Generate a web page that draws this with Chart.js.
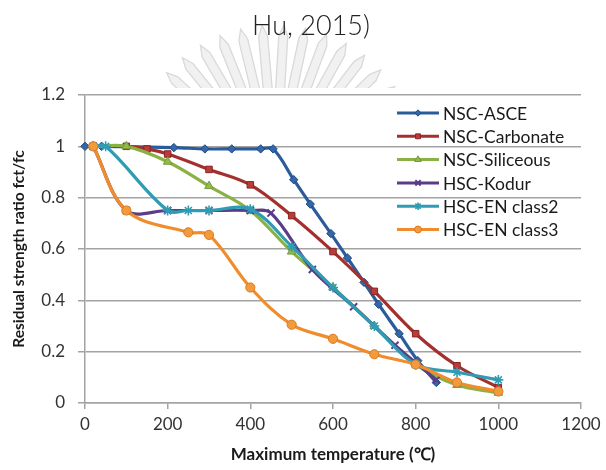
<!DOCTYPE html>
<html>
<head>
<meta charset="utf-8">
<script src="https://cdn.jsdelivr.net/npm/chart.js@4.4.1/dist/chart.umd.min.js"></script>
<style>
  html, body { margin: 0; padding: 0; background: #fff; }
  #wrap { position: relative; width: 606px; height: 470px; }
</style>
</head>
<body>
<div id="wrap"><canvas id="c" width="606" height="470"></canvas></div>
<script>
// Residual strength ratio of concrete vs. maximum exposure temperature
const seriesNames = ['NSC-ASCE', 'NSC-Carbonate', 'NSC-Siliceous', 'HSC-Kodur', 'HSC-EN class2', 'HSC-EN class3'];

const asceTemp  = [0, 40, 215, 290, 355, 425, 455, 505, 545, 595, 635, 675, 710, 760, 805, 850];
const asceRatio = [1.0, 1.0, 0.995, 0.99, 0.99, 0.99, 0.99, 0.87, 0.775, 0.66, 0.565, 0.47, 0.385, 0.27, 0.165, 0.08];

const carbTemp  = [20, 100, 150, 200, 300, 400, 500, 600, 700, 800, 900, 1000];
const carbRatio = [1.0, 1.0, 0.99, 0.97, 0.91, 0.85, 0.73, 0.59, 0.435, 0.27, 0.145, 0.06];

const silTemp  = [20, 100, 200, 300, 400, 500, 600, 700, 800, 900, 1000];
const silRatio = [1.0, 1.0, 0.94, 0.845, 0.75, 0.59, 0.45, 0.30, 0.15, 0.07, 0.04];

const kodurTemp  = [20, 100, 200, 300, 400, 450, 550, 650, 750, 850];
const kodurRatio = [1.0, 0.75, 0.75, 0.75, 0.75, 0.74, 0.52, 0.375, 0.225, 0.09];

const cls2Temp  = [20, 50, 200, 250, 300, 400, 500, 600, 700, 800, 900, 1000];
const cls2Ratio = [1.0, 1.0, 0.75, 0.75, 0.75, 0.755, 0.61, 0.45, 0.30, 0.15, 0.12, 0.09];

const cls3Temp  = [20, 100, 250, 300, 400, 500, 600, 700, 800, 900, 1000];
const cls3Ratio = [1.0, 0.75, 0.665, 0.655, 0.45, 0.305, 0.25, 0.19, 0.15, 0.08, 0.045];

const xTickValues = [0, 200, 400, 600, 800, 1000, 1200];
const yTickValues = [0, 0.2, 0.4, 0.6, 0.8, 1, 1.2];

const toPoints = (xs, ys) => xs.map((x, i) => ({ x: x, y: ys[i] }));

const seriesData = [
  toPoints(asceTemp, asceRatio),
  toPoints(carbTemp, carbRatio),
  toPoints(silTemp, silRatio),
  toPoints(kodurTemp, kodurRatio),
  toPoints(cls2Temp, cls2Ratio),
  toPoints(cls3Temp, cls3Ratio)
];

const styles = [
  { line: '#2a5c9c', fill: '#3466a8', edge: '#1f4a85', shape: 'rectRot',  r: 4.2, bw: 1 },
  { line: '#a3302e', fill: '#b83c39', edge: '#8a2422', shape: 'rect',     r: 4.6, bw: 1 },
  { line: '#8bb043', fill: '#94b94c', edge: '#76993a', shape: 'triangle', r: 5,   bw: 1 },
  { line: '#5a3c88', fill: '#5a3c88', edge: '#5a3c88', shape: 'crossRot', r: 5,   bw: 2 },
  { line: '#2f9cb4', fill: '#3aa6bd', edge: '#2f9cb4', shape: 'star',     r: 5,   bw: 1.6 },
  { line: '#f08c2c', fill: '#f39a3c', edge: '#d97a20', shape: 'circle',   r: 4.6, bw: 1 }
];

const datasets = seriesData.map((pts, i) => ({
  label: seriesNames[i],
  data: pts,
  borderColor: styles[i].line,
  backgroundColor: styles[i].fill,
  borderWidth: 3.2,
  tension: 0.35,
  clip: false,
  pointStyle: styles[i].shape,
  pointRadius: styles[i].r,
  pointBorderWidth: styles[i].bw,
  pointBackgroundColor: styles[i].fill,
  pointBorderColor: styles[i].edge,
  order: seriesNames.length - i
}));

const fontFamily = 'Lato, "Open Sans", sans-serif';

// faint fan emblem printed behind the page heading
const emblemPlugin = {
  id: 'emblem',
  beforeDraw(chart) {
    const ctx = chart.ctx;
    ctx.save();
    ctx.beginPath();
    ctx.rect(0, 0, chart.width, 88);
    ctx.clip();
    const cx = 275, cy = 172;
    for (let a = -146; a <= -34; a += 8.5) {
      const t = a * Math.PI / 180;
      ctx.save();
      ctx.translate(cx, cy);
      ctx.rotate(t);
      ctx.beginPath();
      ctx.moveTo(80, -4.5);
      ctx.lineTo(136, -4.5);
      ctx.lineTo(147, 0);
      ctx.lineTo(136, 4.5);
      ctx.lineTo(80, 4.5);
      ctx.closePath();
      ctx.fillStyle = '#f1f1f1';
      ctx.fill();
      ctx.lineWidth = 1.3;
      ctx.strokeStyle = '#d9d9d9';
      ctx.stroke();
      ctx.restore();
    }
    ctx.restore();

    ctx.save();
    ctx.fillStyle = '#222';
    ctx.font = '300 27px ' + fontFamily;
    ctx.textAlign = 'center';
    ctx.textBaseline = 'middle';
    ctx.fillText('Hu, 2015)', 311, 26);
    ctx.restore();
  }
};

// legend drawn inside the plot, top right
const innerLegend = {
  id: 'innerLegend',
  afterDraw(chart) {
    const ctx = chart.ctx;
    const x0 = 397, x1 = 439, tx = 443, y0 = 113, dy = 23.3;
    chart.data.datasets.forEach((ds, i) => {
      const y = y0 + i * dy;
      ctx.save();
      ctx.strokeStyle = ds.borderColor;
      ctx.lineWidth = 3;
      ctx.beginPath();
      ctx.moveTo(x0, y);
      ctx.lineTo(x1, y);
      ctx.stroke();
      ctx.fillStyle = ds.pointBackgroundColor;
      ctx.strokeStyle = ds.pointBorderColor;
      ctx.lineWidth = ds.pointBorderWidth;
      Chart.helpers.drawPoint(ctx, {
        pointStyle: ds.pointStyle,
        radius: ds.pointRadius * 0.75,
        borderWidth: ds.pointBorderWidth,
        rotation: 0
      }, (x0 + x1) / 2, y);
      ctx.fillStyle = '#1a1a1a';
      ctx.font = '17.5px ' + fontFamily;
      ctx.textAlign = 'left';
      ctx.textBaseline = 'middle';
      ctx.fillText(ds.label, tx, y + 1);
      ctx.restore();
    });
  }
};

const gridGrey = '#a3a3a3';

new Chart(document.getElementById('c'), {
  type: 'line',
  data: { datasets: datasets },
  options: {
    responsive: false,
    animation: false,
    devicePixelRatio: 1,
    layout: { padding: { top: 95, right: 25, left: 0, bottom: 0 } },
    plugins: {
      legend: { display: false },
      tooltip: { enabled: false }
    },
    scales: {
      x: {
        type: 'linear',
        min: 0,
        max: 1200,
        afterBuildTicks(scale) { scale.ticks = xTickValues.map(v => ({ value: v })); },
        afterFit(scale) { scale.height = 67; },
        ticks: {
          color: '#333',
          font: { family: fontFamily, size: 17 },
          padding: 5,
          callback: v => String(v)
        },
        grid: { drawOnChartArea: false, drawTicks: true, tickLength: 6, color: gridGrey, lineWidth: 1.5 },
        border: { display: true, color: gridGrey, width: 1.5 },
        title: {
          display: true,
          text: 'Maximum temperature (℃)',
          color: '#1a1a1a',
          font: { family: fontFamily, size: 17, weight: 'bold' },
          padding: { bottom: 5, top: 0 }
        }
      },
      y: {
        type: 'linear',
        min: 0,
        max: 1.2,
        afterBuildTicks(scale) { scale.ticks = yTickValues.map(v => ({ value: v })); },
        afterFit(scale) { scale.width = 85; },
        ticks: {
          color: '#333',
          font: { family: fontFamily, size: 17 },
          padding: 13,
          callback: v => String(Math.round(v * 10) / 10)
        },
        grid: { drawTicks: true, tickLength: 7, color: gridGrey, lineWidth: 1.5 },
        border: { display: true, color: gridGrey, width: 1.5 },
        title: {
          display: true,
          text: 'Residual strength ratio fct/fc',
          color: '#1a1a1a',
          font: { family: fontFamily, size: 15.5, weight: 'bold' },
          padding: { top: 10, bottom: 0 }
        }
      }
    }
  },
  plugins: [emblemPlugin, innerLegend]
});
</script>
</body>
</html>
